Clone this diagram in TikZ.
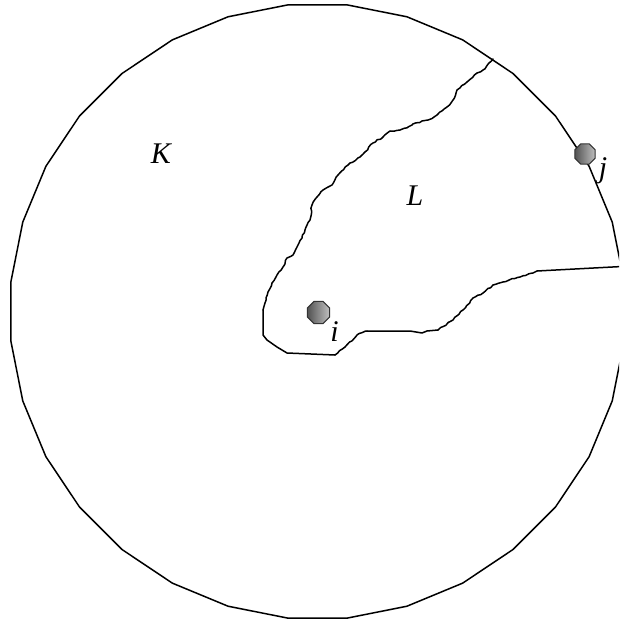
\documentclass[tikz,border=0pt]{standalone}
\usepackage{fontspec}
\setmainfont{Liberation Serif}
\usetikzlibrary{shapes.geometric,decorations.pathmorphing}
\pgfmathsetseed{7}

\begin{document}
\begin{tikzpicture}[x=1pt, y=-1pt,
  boundary/.style={line width=1.5pt, line join=round, line cap=round},
  rough/.style={boundary, decorate,
    decoration={random steps, segment length=3pt, amplitude=0.7pt}},
  site/.style={regular polygon, regular polygon sides=8, minimum size=24pt,
    inner sep=0pt, draw=black!80, line width=1pt,
    left color=gray!65!black, middle color=gray!25, right color=gray!50},
  region/.style={font=\itshape\fontsize{30}{30}\selectfont, inner sep=0pt}
]
  \useasboundingbox (0,0) rectangle (619,620);
  \clip (0,0) rectangle (619,620);

  % outer disk K
  \node[boundary, draw, regular polygon, regular polygon sides=32,
    minimum size=616pt, inner sep=0pt, outer sep=0pt] (disk) at (317.5,311.5) {};

  % boundary of L
  \coordinate (top) at (493,59);
  \coordinate (rim) at (622,266.5);
  \draw[rough] (top) -- (483,70) -- (477,73) -- (467,82) -- (457,90) -- (453,100)
    -- (447,107) -- (437,115) -- (428,120) -- (422,121) -- (412,125) -- (400,130)
    -- (390,131) -- (383,137) -- (373,143) -- (365,152) -- (360,157) -- (350,163)
    -- (338,175) -- (332,185) -- (323,190) -- (317,197) -- (312,205) -- (310,220)
    -- (305,230) -- (302,238) -- (297,247) -- (293,255) -- (287,258) -- (283,267)
    -- (277,275) -- (272,283) -- (268,292) -- (265,303) -- (263,310);
  \draw[boundary] (263,310) -- (263,335) -- (267,340) -- (277,347) -- (287,353) -- (335,355);
  \draw[rough] (335,355) -- (345,347) -- (357,335) -- (367,331);
  \draw[boundary] (367,331) -- (410,331) -- (422,333) -- (427,331) -- (438,330);
  \draw[rough] (438,330) -- (453,320) -- (463,310) -- (473,298) -- (483,293)
    -- (493,285) -- (503,282) -- (520,277) -- (533,273) -- (537,271);
  \draw[boundary] (537,271) -- (rim);

  % sites
  \node[site] (i) at (318.5,312.5) {};
  \node[site, minimum size=22pt] (j) at (585,154) {};

  % labels
  \node[region] (labK) at (161,153.5) {K};
  \node[region] (labL) at (415,196) {L};
  \node[region] (labi) at (334.5,332) {i};
  \node[region] (labj) at (603,171) {j};
\end{tikzpicture}
\end{document}
